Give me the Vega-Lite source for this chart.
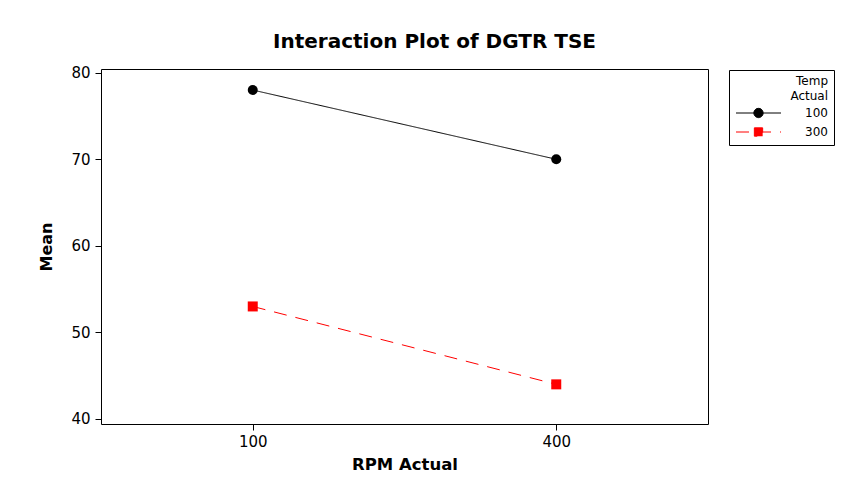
{
  "$schema": "https://vega.github.io/schema/vega-lite/v6.json",
  "width": 607,
  "height": 355,
  "autosize": "none",
  "padding": {"left": 101, "top": 69, "right": 141, "bottom": 62},
  "background": "white",
  "title": {"text": "Interaction Plot of DGTR TSE", "fontSize": 20, "fontWeight": "bold", "color": "black", "anchor": "middle", "dx": 30, "baseline": "alphabetic", "offset": -2},
  "data": {"values": [
    {"RPM": "100", "Temp": "100", "Mean": 78},
    {"RPM": "400", "Temp": "100", "Mean": 70},
    {"RPM": "100", "Temp": "300", "Mean": 53},
    {"RPM": "400", "Temp": "300", "Mean": 44}
  ]},
  "encoding": {
    "x": {"field": "RPM", "type": "ordinal", "sort": ["100", "400"],
      "scale": {"type": "point", "padding": 0.5},
      "axis": {"title": "RPM Actual", "labelAngle": 0, "domain": false, "tickColor": "black", "tickSize": 6, "labelFontSize": 15, "labelColor": "black", "labelPadding": 4, "titleFontSize": 16.5, "titleFontWeight": "bold", "titleColor": "black", "titlePadding": 7}},
    "y": {"field": "Mean", "type": "quantitative",
      "scale": {"domain": [39.42, 80.43], "nice": false, "zero": false},
      "axis": {"title": "Mean", "values": [40, 50, 60, 70, 80], "grid": false, "domain": false, "tickColor": "black", "tickSize": 6, "labelFontSize": 15, "labelColor": "black", "labelPadding": 5, "titleFontSize": 16, "titleFontWeight": "bold", "titleColor": "black", "titlePadding": 16}},
    "color": {"field": "Temp", "type": "nominal",
      "scale": {"domain": ["100", "300"], "range": ["#000000", "#FF0000"]},
      "legend": {
        "title": ["Temp", "Actual"], "orient": "none", "legendX": 628, "legendY": 1,
        "strokeColor": "black", "padding": 6, "titleAlign": "right", "titleAnchor": "end",
        "titleFontSize": 12, "titleFontWeight": "normal", "titleColor": "black", "titleLineHeight": 15, "titlePadding": 4,
        "labelFontSize": 12, "labelColor": "black", "labelOffset": 58, "rowPadding": 5, "symbolSize": 100,
        "symbolStrokeWidth": 1, "symbolOpacity": 1
      }}
  },
  "layer": [
    {"mark": {"type": "line", "strokeWidth": 1},
     "encoding": {"strokeDash": {"field": "Temp", "type": "nominal", "scale": {"domain": ["100", "300"], "range": [[1, 0], [13, 9]]}, "legend": null}}},
    {"transform": [{"filter": "datum.Temp == '100'"}],
     "mark": {"type": "point", "filled": true, "opacity": 1, "shape": "circle", "size": 100}},
    {"transform": [{"filter": "datum.Temp == '300'"}],
     "mark": {"type": "point", "filled": true, "opacity": 1, "shape": "square", "size": 100}},
    {"transform": [{"filter": "datum.Mean > 1000"}],
     "mark": {"type": "point", "filled": true, "opacity": 1},
     "encoding": {
       "shape": {"field": "Temp", "type": "nominal",
         "scale": {"domain": ["100", "300"], "range": ["M-1,0H8M4.43,0A0.93,0.93,0,1,1,2.57,0A0.93,0.93,0,1,1,4.43,0Z", "M-1,0H8M2.67,-0.83H4.33V0.83H2.67Z"]},
         "legend": {"title": ["Temp", "Actual"]}}}}
  ],
  "config": {
    "font": "DejaVu Sans",
    "view": {"stroke": "black", "strokeWidth": 1}
  }
}
